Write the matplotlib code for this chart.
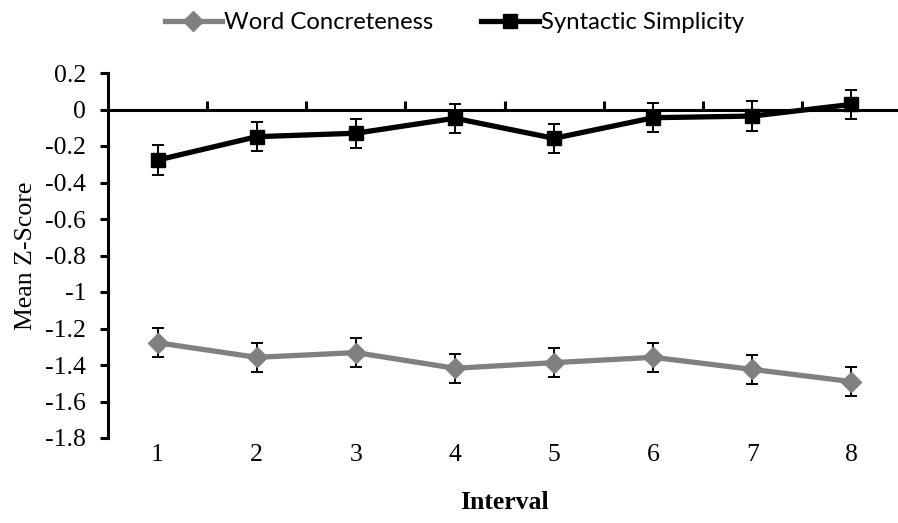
import matplotlib
matplotlib.use("Agg")
import matplotlib.pyplot as plt
from matplotlib.lines import Line2D

intervals = [1, 2, 3, 4, 5, 6, 7, 8]
word_concreteness = [-1.278, -1.358, -1.332, -1.418, -1.387, -1.358, -1.424, -1.491]
syntactic_simplicity = [-0.277, -0.149, -0.130, -0.048, -0.158, -0.045, -0.036, 0.028]
wc_err = [0.08] * 8
ss_err = [0.08] * 8
y_ticks = [0.2, 0, -0.2, -0.4, -0.6, -0.8, -1, -1.2, -1.4, -1.6, -1.8]

SERIF = "Liberation Serif"
plt.rcParams["font.family"] = [SERIF, "DejaVu Serif"]

GRAY = "#808080"
FS = 18.5

fig = plt.figure(figsize=(8.98, 5.23), dpi=100)
ax = fig.add_axes([108/898, 1 - 438/523, 793/898, 365/523])

ax.errorbar(intervals, word_concreteness, yerr=wc_err, color=GRAY, lw=3.8,
            marker="D", markersize=10, markeredgecolor=GRAY,
            ecolor="black", elinewidth=1.4, capsize=4.3, capthick=1.4, zorder=3)
ax.errorbar(intervals, syntactic_simplicity, yerr=ss_err, color="black", lw=3.8,
            marker="s", markersize=9.8, ecolor="black", elinewidth=1.4,
            capsize=4.3, capthick=1.4, zorder=3)

ax.set_xlim(0.5, 8.5)
ax.set_ylim(-1.8, 0.2)
ax.set_yticks(y_ticks)
ax.set_yticklabels([f"{v:g}" for v in y_ticks])
ax.set_xticks(intervals)
ax.set_xticklabels([str(i) for i in intervals])

for s in ["top", "right", "bottom"]:
    ax.spines[s].set_visible(False)
ax.spines["left"].set_linewidth(2.2)
ax.tick_params(axis="y", direction="out", length=5.8, width=2.2, pad=10,
               labelsize=FS, labelfontfamily=SERIF)
ax.tick_params(axis="x", length=0, pad=4, labelsize=FS, labelfontfamily=SERIF)

# horizontal axis line at y=0 with category-boundary ticks
ax.axhline(0, color="black", lw=2.2, zorder=2)
sec = ax.secondary_xaxis((0 - (-1.8)) / 2.0)
for s in sec.spines.values():
    s.set_visible(False)
sec.set_xticks([1.5, 2.5, 3.5, 4.5, 5.5, 6.5, 7.5])
sec.set_xticklabels([])
sec.tick_params(direction="out", length=6, width=2.2)

ax.set_ylabel("Mean Z-Score", fontsize=FS, fontfamily=SERIF, labelpad=6)
ax.set_xlabel("Interval", fontsize=FS, fontfamily=SERIF, fontweight="bold", labelpad=18)

handles = [
    Line2D([], [], color=GRAY, lw=3.8, marker="D", markersize=10, markeredgecolor=GRAY),
    Line2D([], [], color="black", lw=3.8, marker="s", markersize=9.8),
]
labels = ["Word Concreteness", "Syntactic Simplicity"]
fig.legend(handles, labels, loc="upper center", bbox_to_anchor=(0.506, 1.018), ncol=2,
           frameon=False, prop={"family": "Lato", "size": 17.2}, handlelength=2.4,
           columnspacing=2.0, handletextpad=0.1)

fig.savefig("out.png", dpi=100)
